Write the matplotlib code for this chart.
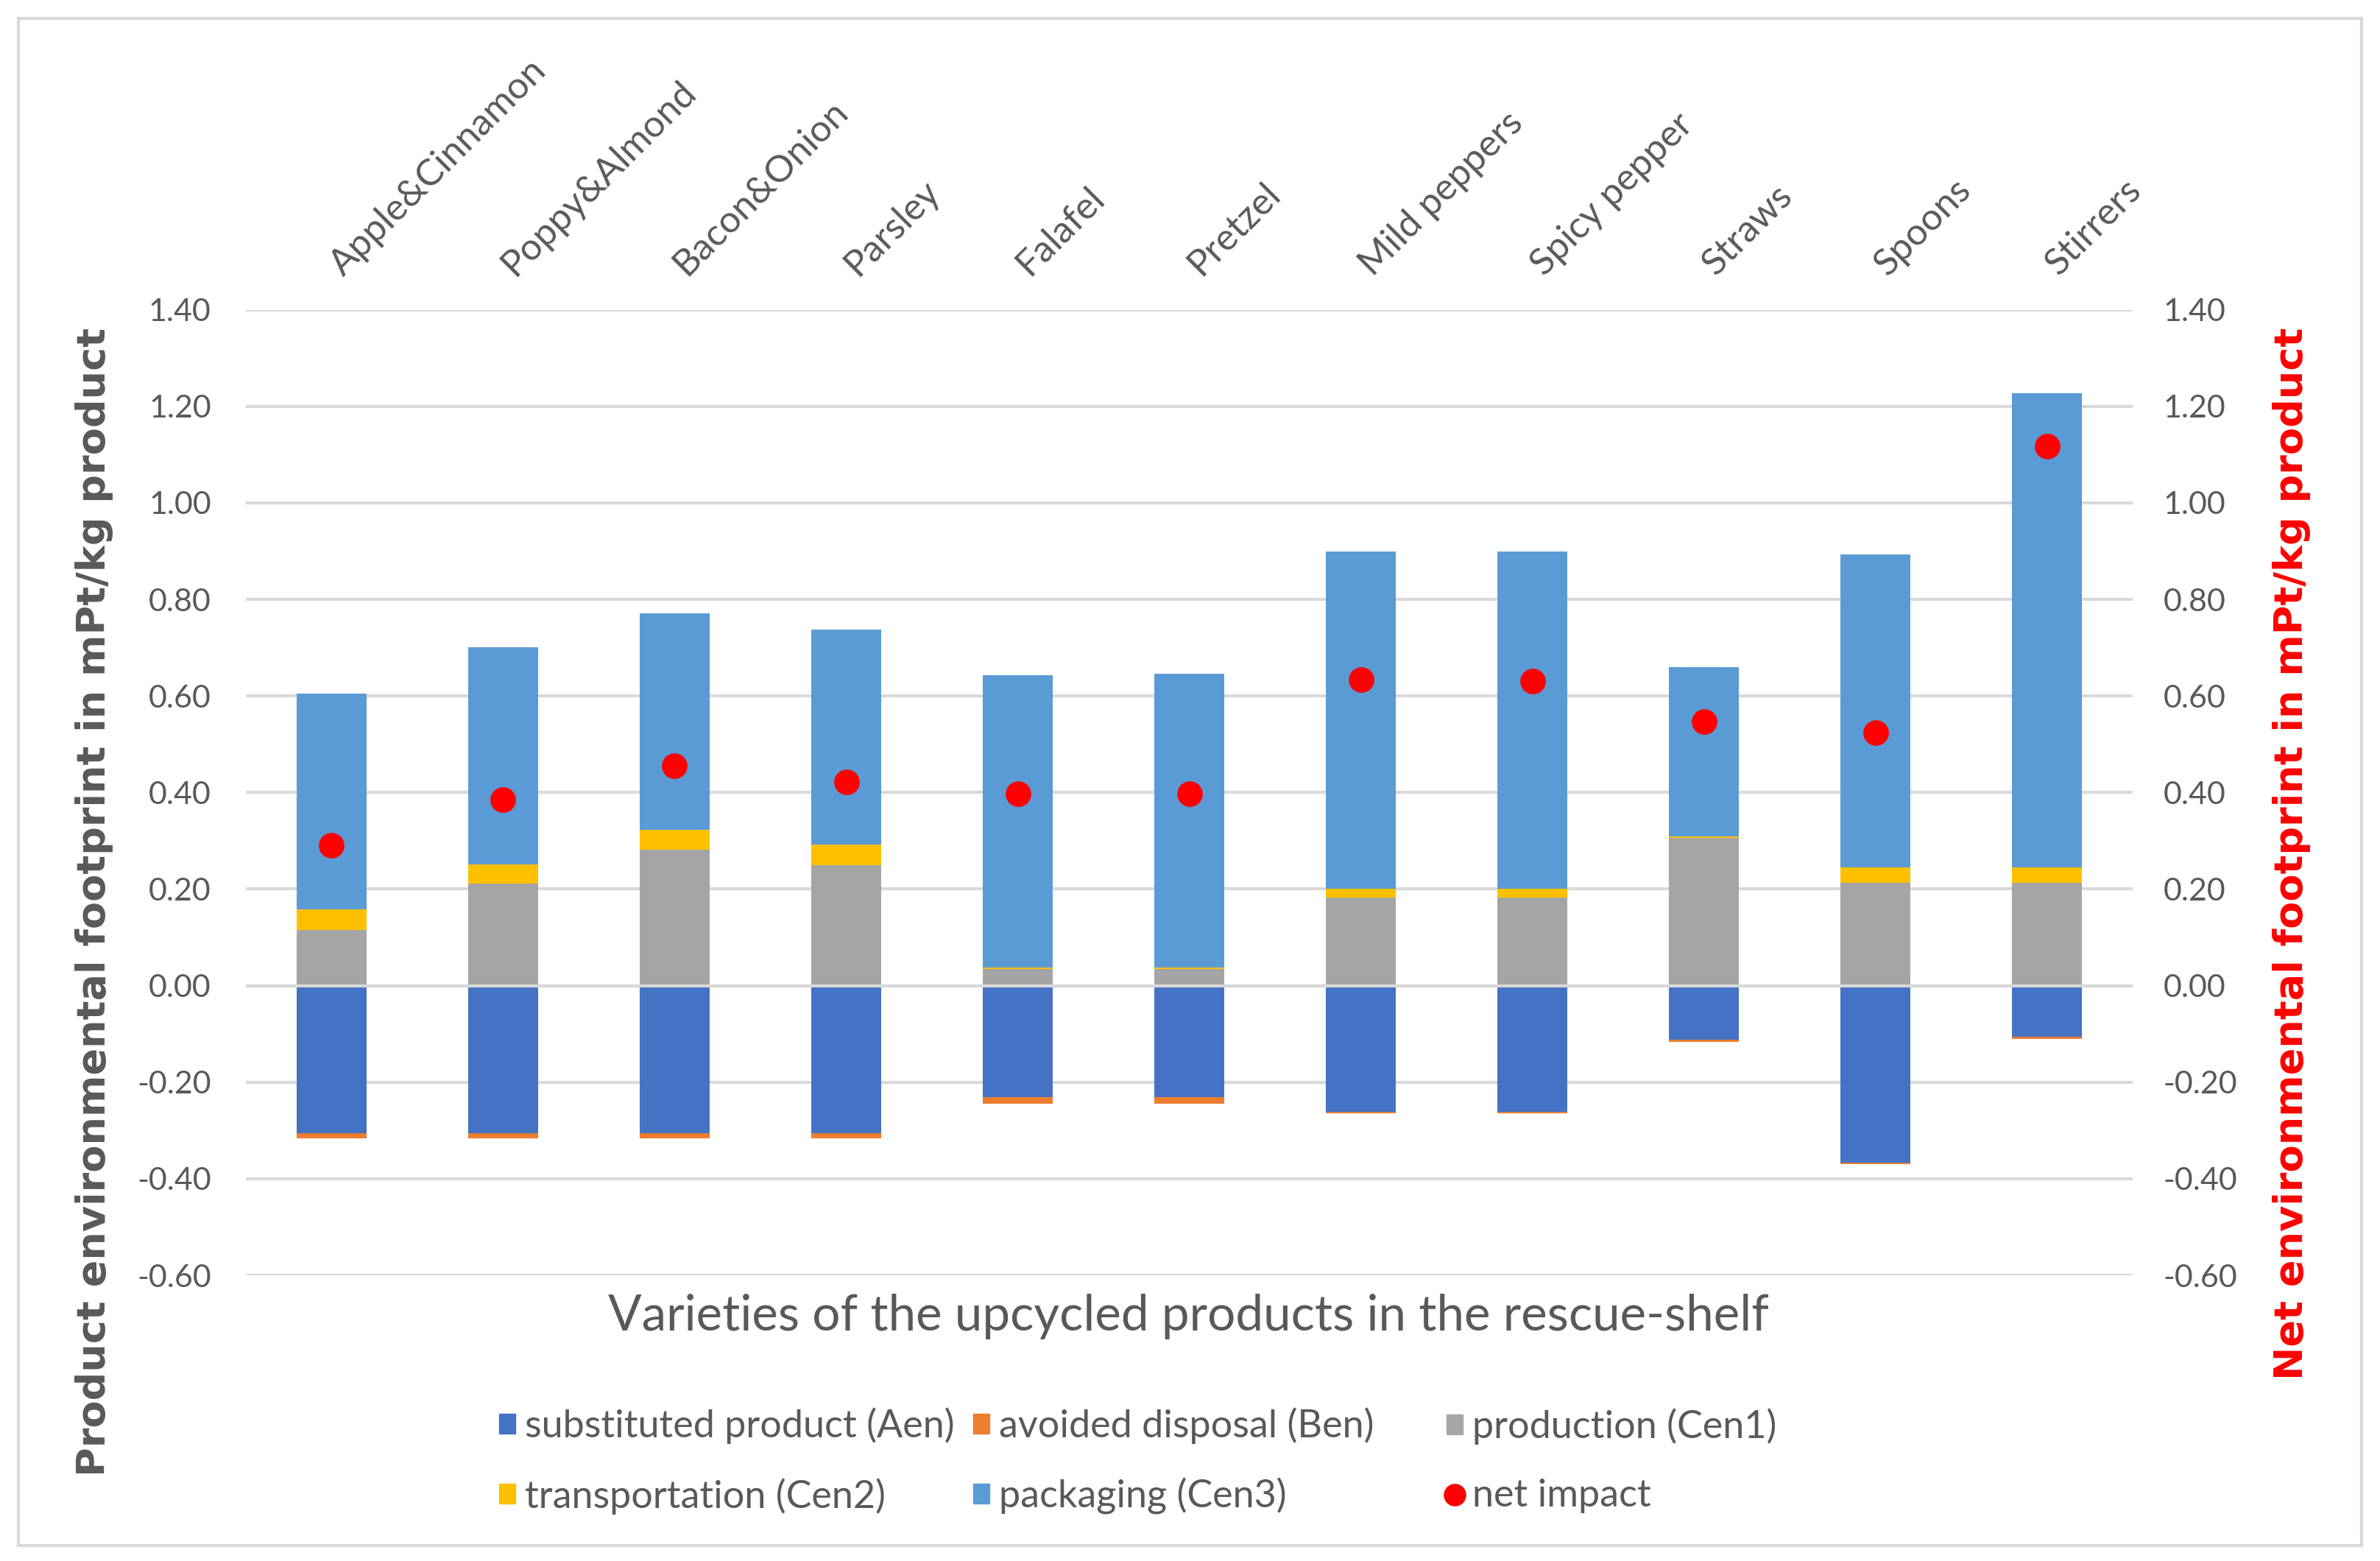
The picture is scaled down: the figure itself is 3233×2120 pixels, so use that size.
import matplotlib
matplotlib.use("Agg")
import matplotlib.pyplot as plt
import numpy as np
from matplotlib.patches import Patch, Rectangle
from matplotlib.lines import Line2D
from matplotlib.transforms import ScaledTranslation

categories = ["Apple&Cinnamon", "Poppy&Almond", "Bacon&Onion", "Parsley", "Falafel",
              "Pretzel", "Mild peppers", "Spicy pepper", "Straws", "Spoons", "Stirrers"]
substituted = [-0.306, -0.306, -0.306, -0.306, -0.231, -0.231, -0.261, -0.261, -0.112, -0.366, -0.106]
avoided = [-0.010, -0.010, -0.010, -0.010, -0.013, -0.013, -0.004, -0.004, -0.004, -0.004, -0.004]
production = [0.116, 0.211, 0.282, 0.249, 0.035, 0.035, 0.183, 0.183, 0.306, 0.213, 0.213]
transport = [0.042, 0.040, 0.040, 0.043, 0.003, 0.003, 0.018, 0.018, 0.003, 0.032, 0.032]
packaging = [0.447, 0.450, 0.449, 0.445, 0.605, 0.608, 0.698, 0.698, 0.351, 0.648, 0.982]
net_impact = [0.290, 0.385, 0.456, 0.422, 0.398, 0.398, 0.634, 0.631, 0.547, 0.524, 1.117]
yticks = [1.40, 1.20, 1.00, 0.80, 0.60, 0.40, 0.20, 0.00, -0.20, -0.40, -0.60]

labels = ["substituted product (Aen)", "avoided disposal (Ben)", "production (Cen1)",
          "transportation (Cen2)", "packaging (Cen3)", "net impact"]
colors = ["#4472C4", "#ED7D31", "#A5A5A5", "#FFC000", "#5B9BD5", "#FF0000"]

TXT = "#595959"
GRID = "#D9D9D9"
FONT = "Lato"

fig = plt.figure(figsize=(32.33, 21.20), dpi=100)
ax = fig.add_axes([0.1033, 0.183, 0.7928, 0.6186])
ax2 = ax.twinx()

x = np.arange(len(categories))
w = 0.41
sub = np.array(substituted)
avo = np.array(avoided)
pro = np.array(production)
tra = np.array(transport)
pac = np.array(packaging)

ax.bar(x, sub, w, color=colors[0], zorder=2)
ax.bar(x, avo, w, bottom=sub, color=colors[1], zorder=2)
ax.bar(x, pro, w, color=colors[2], zorder=2)
ax.bar(x, tra, w, bottom=pro, color=colors[3], zorder=2)
ax.bar(x, pac, w, bottom=pro + tra, color=colors[4], zorder=2)
ax.axhline(0, color=GRID, lw=3, zorder=3)

ax2.plot(x, net_impact, 'o', color=colors[5], markersize=24, zorder=5)

for a in (ax, ax2):
    a.set_ylim(-0.6, 1.4)
    a.set_yticks(yticks)
    a.set_yticklabels([f"{v:.2f}" for v in yticks])
    for s in a.spines.values():
        s.set_visible(False)

ax.yaxis.grid(True, color=GRID, lw=3, zorder=0)
ax.set_axisbelow(True)
ax.tick_params(axis='y', length=0, pad=34, labelsize=31, labelcolor=TXT)
ax2.tick_params(axis='y', length=0, pad=30, labelsize=31, labelcolor=TXT)
for lab in ax.get_yticklabels() + ax2.get_yticklabels():
    lab.set_fontfamily(FONT)

ax.set_xticks(x)
ax.set_xlim(-0.5, len(categories) - 0.5)
ax.xaxis.tick_top()
ax.set_xticklabels(categories, rotation=45, ha='left', va='baseline',
                   rotation_mode='anchor', fontsize=36.5, color=TXT, fontfamily=FONT)
ax.tick_params(axis='x', length=0, pad=32, top=True, labeltop=True,
               bottom=False, labelbottom=False)
ax2.tick_params(axis='x', length=0, top=False, bottom=False,
                labeltop=False, labelbottom=False)
shift = ScaledTranslation(0.16, 0, fig.dpi_scale_trans)
for lab in ax.get_xticklabels():
    lab.set_transform(lab.get_transform() + shift)

fig.text(0.0395, 0.422, "Product environmental footprint in mPt/kg product", rotation=90,
         ha='center', va='center', fontsize=39, fontweight='bold', color=TXT,
         fontfamily="DejaVu Sans")
fig.text(0.963, 0.453, "Net environmental footprint in mPt/kg product", rotation=90,
         ha='center', va='center', fontsize=39, fontweight='bold', color="#FF0000",
         fontfamily="DejaVu Sans")
fig.text(0.4994, 0.1566, "Varieties of the upcycled products in the rescue-shelf",
         ha='center', va='center', fontsize=48.5, color=TXT, fontfamily=FONT)

handles = [Patch(color=colors[i]) for i in range(5)] + \
          [Line2D([], [], marker='o', color=colors[5], linestyle='None', markersize=21)]
cols = [(0, 3), (1, 4), (2, 5)]
colx = [329 / 1568, 641 / 1568, 953 / 1568]
for (i, j), cx in zip(cols, colx):
    leg = fig.legend([handles[i], handles[j]], [labels[i], labels[j]], loc='center left',
                     bbox_to_anchor=(cx, 1 - 962 / 1028), frameon=False, borderpad=0,
                     borderaxespad=0, handlelength=0.42, handleheight=0.42,
                     handletextpad=0.25, labelspacing=0.88,
                     prop={'family': FONT, 'size': 37.5})
    for t in leg.get_texts():
        t.set_color(TXT)

fig.patches.append(Rectangle((0.0077, 0.0097), 0.9846, 0.9786, transform=fig.transFigure,
                             fill=False, edgecolor=GRID, lw=3))

fig.savefig("out.png", dpi=100, facecolor="white")
